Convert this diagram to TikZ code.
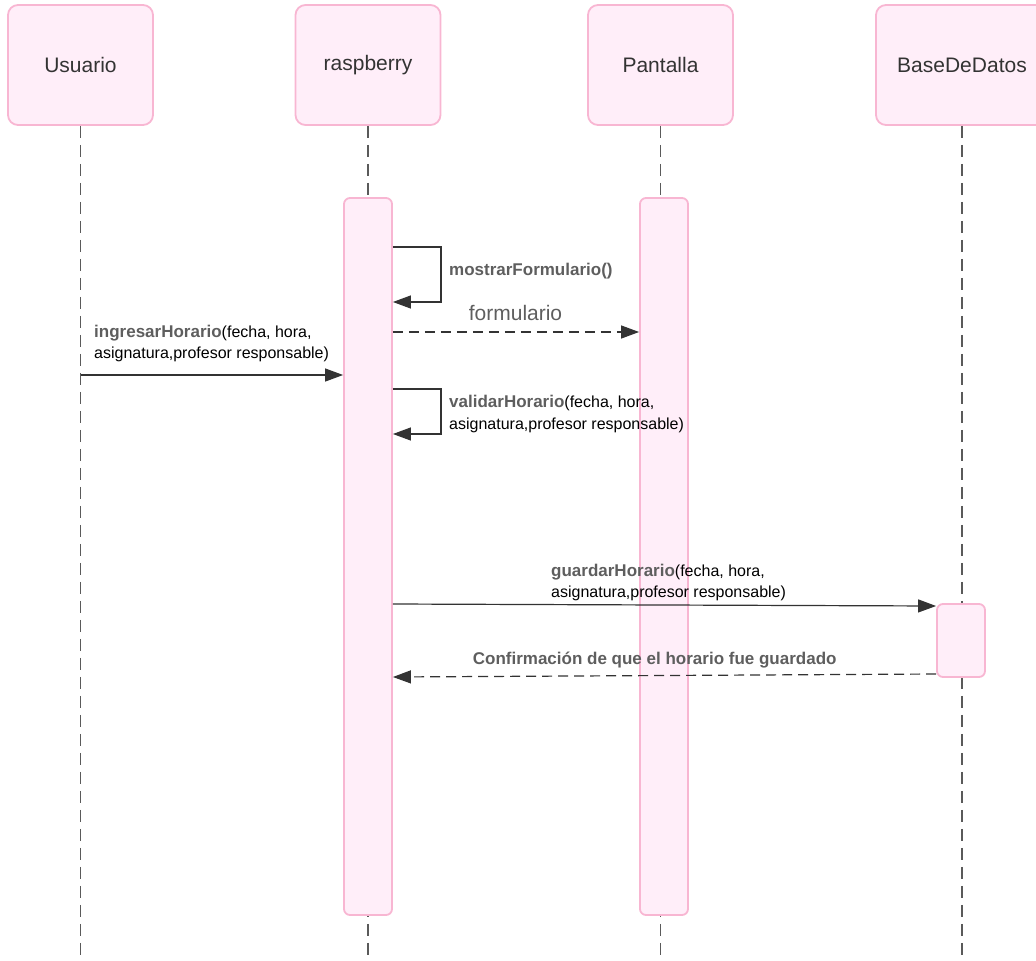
\documentclass[tikz,border=0pt]{standalone}
\usepackage{fontspec}
\setmainfont{Liberation Sans}
\usetikzlibrary{arrows.meta,positioning}
\definecolor{boxfill}{HTML}{FFEEF9}
\definecolor{boxline}{HTML}{F8B6D2}
\definecolor{ink}{HTML}{333333}
\definecolor{lifegray}{HTML}{5A5A5A}
\definecolor{callgray}{HTML}{5E5E5E}
\newcommand{\call}[1]{{\color{callgray}\fontsize{17}{21.5}\selectfont\bfseries #1}}

\begin{document}
\begin{tikzpicture}[x=1pt,y=-1pt,
  actor/.style={draw=boxline, fill=boxfill, line width=1.8pt, rounded corners=10pt,
    minimum width=145pt, minimum height=120pt, text=ink, font=\fontsize{21}{25}\selectfont},
  activation/.style={draw=boxline, fill=boxfill, line width=1.8pt, rounded corners=6pt,
    minimum width=48pt, inner sep=0pt},
  lifeline/.style={lifegray, line width=1.3pt, dash pattern=on 12pt off 7pt},
  msg/.style={ink, line width=1.2pt, -{Triangle[length=18pt,width=13pt]}},
  reply/.style={msg, dash pattern=on 10pt off 6pt},
  lbl/.style={inner sep=0pt, align=left, text=black, font=\fontsize{16}{21.5}\selectfont}]
\useasboundingbox (0,0) rectangle (1036,961);

\node[actor] (usuario) at (80.5,65) {Usuario};
\node[actor] (raspberry) at (368,65) {raspberry};
\node[actor] (pantalla) at (660.5,65) {Pantalla};
\node[actor, minimum width=172pt] (bd) at (962,65) {BaseDeDatos};
\coordinate (bottom) at (0,961);

\draw[lifeline] (usuario.south) -- (usuario.south |- bottom);
\draw[lifeline] (raspberry.south) -- (raspberry.south |- bottom);
\draw[lifeline] (pantalla.south) -- (pantalla.south |- bottom);
\draw[lifeline] (bd.south) -- (bd.south |- bottom);

\node[activation, minimum height=717pt] (actRasp) at (368,556.5) {};
\node[activation, minimum height=717pt] (actPant) at (664,556.5) {};
\node[activation, minimum height=73pt] (actBD) at (961,640.5) {};

\draw[msg] (actRasp.east |- 0,247) -| ++(48,55) -- (actRasp.east |- 0,302);
\node[lbl, anchor=west] (lblMostrar) at (449,271) {\call{mostrarFormulario()}};

\draw[reply] (actRasp.east |- 0,332) -- (actPant.west |- 0,332);
\node[anchor=base, inner sep=0pt, text=callgray, font=\fontsize{21}{25}\selectfont] (lblForm) at (515.5,320.5) {formulario};

\draw[msg] (usuario.south |- 0,375) -- (actRasp.west |- 0,375);
\node[lbl, anchor=north west] (lblIngresar) at (94,324.5) {\call{ingresarHorario}(fecha, hora,\\asignatura,profesor responsable)};

\draw[msg] (actRasp.east |- 0,389) -| ++(48,45) -- (actRasp.east |- 0,434);
\node[lbl, anchor=north west] (lblValidar) at (449,395) {\call{validarHorario}(fecha, hora,\\asignatura,profesor responsable)};

\draw[msg] (actRasp.east |- 0,604) -- (actBD.west |- 0,606);
\node[lbl, anchor=north west] (lblGuardar) at (551,563.5) {\call{guardarHorario}(fecha, hora,\\asignatura,profesor responsable)};

\draw[reply] (actBD.west |- 0,674) -- (actRasp.east |- 0,677);
\node[anchor=base, inner sep=0pt] (lblConf) at (654.7,664) {\call{Confirmación de que el horario fue guardado}};
\end{tikzpicture}
\end{document}
